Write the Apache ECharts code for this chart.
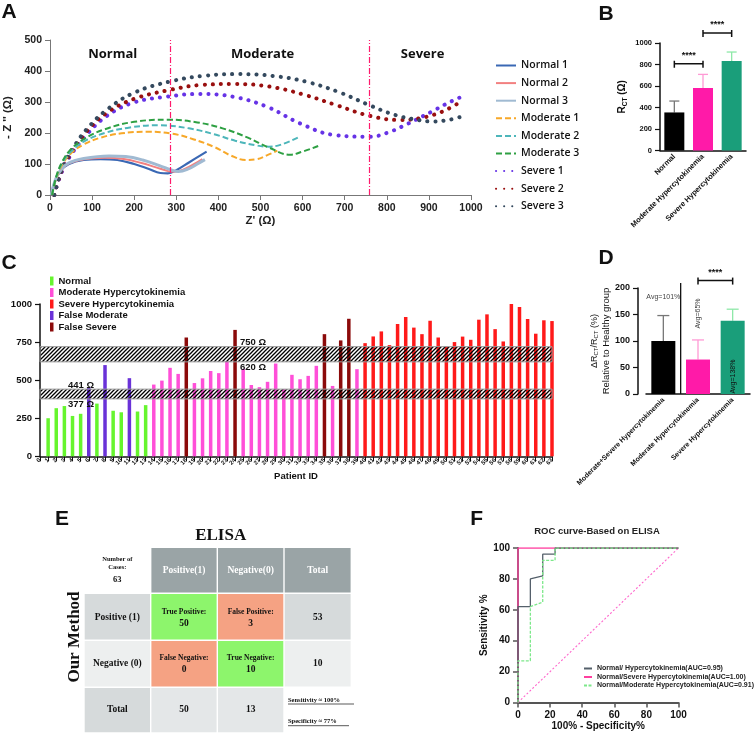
<!DOCTYPE html>
<html><head><meta charset="utf-8">
<script src="https://cdn.jsdelivr.net/npm/echarts@6/dist/echarts.min.js"></script>
<style>html,body{margin:0;padding:0;background:#fff}#c{width:756px;height:735px}</style>
</head><body><div id="c"></div>
<script>
// ---------- Panel A: Nyquist curves [Z', -Z''] ----------
const aNormal1 = [[3,0],[12,45],[25,78],[45,100],[80,113],[120,116],[160,113],[200,100],[235,84],[262,71],[280,70],[300,80],[330,105],[372,140]];
const aNormal2 = [[3,0],[12,45],[25,78],[45,102],[80,115],[130,120],[175,116],[215,104],[250,90],[280,77],[295,75],[320,84],[345,102],[362,116]];
const aNormal3 = [[3,0],[12,47],[25,80],[45,104],[80,118],[140,126],[180,124],[220,113],[260,95],[290,80],[305,76],[330,85],[350,100],[368,114]];
const aModerate1 = [[5,0],[15,55],[30,100],[50,135],[80,163],[120,185],[170,199],[230,204],[290,198],[340,180],[390,155],[430,127],[465,113],[490,115],[515,128],[540,143]];
const aModerate2 = [[5,0],[15,58],[30,105],[50,140],[80,172],[130,200],[190,218],[260,225],[330,215],[390,196],[440,175],[490,160],[520,156],[550,163],[590,186]];
const aModerate3 = [[5,0],[15,60],[30,110],[50,148],[80,180],[130,212],[200,236],[280,243],[350,234],[410,215],[470,185],[520,153],[570,130],[600,140],[637,158]];
const aSevere1 = [[10,0],[20,45],[35,95],[55,140],[87,195],[135,255],[198,298],[277,317],[356,326],[435,317],[515,285],[594,231],[673,194],[760,188],[800,200],[850,230],[911,272],[950,300],[988,323]];
const aSevere2 = [[10,0],[20,48],[35,100],[55,145],[87,205],[135,265],[200,310],[285,339],[360,355],[440,358],[520,350],[600,325],[680,290],[760,255],[831,242],[880,248],[930,268],[975,300]];
const aSevere3 = [[10,0],[20,50],[35,105],[55,152],[87,212],[135,275],[200,330],[285,366],[370,385],[450,390],[530,384],[610,365],[690,330],[758,290],[820,258],[870,243],[911,237],[950,243],[978,253]];
const aNames = ['Normal 1','Normal 2','Normal 3','Moderate 1','Moderate 2','Moderate 3','Severe 1','Severe 2','Severe 3'];
const aSeriesData = [aNormal1,aNormal2,aNormal3,aModerate1,aModerate2,aModerate3,aSevere1,aSevere2,aSevere3];
const aThresholds = [285, 758];
const aRegions = ['Normal','Moderate','Severe'];

// ---------- Panel B ----------
const bCats = ['Normal','Moderate Hypercytokinemia','Severe Hypercytokinemia'];
const bMeans = [354, 581, 832];
const bUpper = [460, 708, 916];

// ---------- Panel C ----------
const cIds = ['0','1','2','3','4','5','6','7','8','9','10','11','12','13','14','15','16','17','18','19','20','21','22','23','24','25','26','27','28','29','30','31','32','33','34','35','36','37','38','39','40','41','42','43','44','45','46','47','48','49','50','51','52','53','54','55','56','57','58','59','60','61','62','63'];
const cValues = [null,250,316,330,265,279,455,346,599,299,289,513,294,336,
  471,497,581,541,780,481,512,560,546,624,830,574,468,454,489,609,441,535,506,528,594,802,462,761,903,572,
  743,787,820,730,869,914,845,802,890,780,720,750,786,765,897,932,835,754,1001,980,902,805,893,888];
const cGroup = ['-','N','N','N','N','N','FM','N','FM','N','N','FM','N','N',
  'M','M','M','M','FS','M','M','M','M','M','FS','M','M','M','M','M','M','M','M','M','M','FS','M','FS','FS','M',
  'S','S','S','S','S','S','S','S','S','S','S','S','S','S','S','S','S','S','S','S','S','S','S','S'];
const cGroupKeys = ['N','M','S','FM','FS'];
const cGroupNames = ['Normal','Moderate Hypercytokinemia','Severe Hypercytokinemia','False Moderate','False Severe'];
const cBands = [[620,720],[377,441]];
const cBandLabels = ['750 Ω','620 Ω','441 Ω','377 Ω'];

// ---------- Panel D ----------
const dCats = ['Moderate+Severe Hypercytokinemia','Moderate Hypercytokinemia','Severe Hypercytokinemia'];
const dMeans = [100, 65, 138];
const dUpper = [148, 102, 160];
const dAvg = ['Avg=101%','Avg=65%','Avg=138%'];

// ---------- Panel E ----------
const eHeader = ['Positive(1)','Negative(0)','Total'];
const eRowLabels = ['Positive (1)','Negative (0)','Total'];
const eCellTitles = [['True Positive:','False Positive:',''],['False Negative:','True Negative:',''],['','','']];
const eCellValues = [['50','3','53'],['0','10','10'],['50','13','']];
const eCases = '63';
const eSens = 'Sensitivity ≈ 100%';
const eSpec = 'Specificity ≈ 77%';

// ---------- Panel F ----------
const fNames = ['Normal/ Hypercytokinemia(AUC=0.95)','Normal/Severe Hypercytokinemia(AUC=1.00)','Normal/Moderate Hypercytokinemia(AUC=0.91)'];
const fRocAll = [[0,0],[0,62],[7.7,62],[7.7,80],[15.4,82],[15.4,96],[23.1,96],[23.1,100],[100,100]];
const fRocSevere = [[0,0],[0,100],[100,100]];
const fRocModerate = [[0,0],[0,27],[7.7,27],[7.7,62],[15.4,65],[15.4,92],[23.1,92],[23.1,100],[100,100]];
const fDiag = [[0,0],[100,100]];

// ================= styles =================
const SANS = 'Liberation Sans';
const SERIF = 'Liberation Serif';
const aStyles = [
  {color:'#3A68B4', width:2.2, type:'solid'},
  {color:'#F28080', width:2, type:'solid'},
  {color:'#A0BAD2', width:3, type:'solid'},
  {color:'#F7A829', width:2, type:[6,3]},
  {color:'#4DB6BA', width:2, type:[6,3]},
  {color:'#2EA043', width:2, type:[6,3]},
  {color:'#6633E6', width:4, type:[0.1,8], cap:'round'},
  {color:'#990F0F', width:4, type:[0.1,8], cap:'round'},
  {color:'#34495E', width:4, type:[0.1,8], cap:'round'}
];
const bColors = ['#000000','#FF1AA8','#1A9E7A'];
const bErrColors = ['#777777','#FF9AD5','#8EE8A8'];
const cColors = {N:'#66F52E', M:'#FF4FD8', S:'#FF1A1A', FM:'#6A32D8', FS:'#8B0A0A'};

// hatch pattern
const pc = document.createElement('canvas'); pc.width = 4; pc.height = 4;
const pg = pc.getContext('2d'); pg.strokeStyle = '#000'; pg.lineWidth = 1.3;
pg.beginPath(); pg.moveTo(0,4); pg.lineTo(4,0); pg.moveTo(-1,1); pg.lineTo(1,-1); pg.moveTo(3,5); pg.lineTo(5,3); pg.stroke();
const hatch = {image: pc, repeat: 'repeat'};

function errRender(colors, capW) {
  return function(params, api) {
    const x = api.value(0), m = api.value(1), u = api.value(2);
    const p0 = api.coord([x, m]), p1 = api.coord([x, u]);
    const c = colors[params.dataIndex];
    return {type:'group', children:[
      {type:'line', shape:{x1:p0[0],y1:p0[1],x2:p1[0],y2:p1[1]}, style:{stroke:c, lineWidth:1.3}},
      {type:'line', shape:{x1:p1[0]-capW,y1:p1[1],x2:p1[0]+capW,y2:p1[1]}, style:{stroke:c, lineWidth:1.3}}
    ]};
  };
}

const blackAxis = {lineStyle:{color:'#111', width:1.5}};
const plain = v => String(v);
const lbl = (s, extra) => Object.assign({fontFamily:SANS, fontWeight:'bold', fontSize:s, color:'#111'}, extra||{});

const series = [];
// A
aSeriesData.forEach((d, i) => {
  const s = {name:aNames[i], type:'line', xAxisIndex:0, yAxisIndex:0, data:d, smooth:0.4,
    symbol:'none', showSymbol:false, lineStyle:aStyles[i], itemStyle:{color:aStyles[i].color}, z: i<6 ? 4 : 3};
  if (i === 0) {
    s.markLine = {silent:true, symbol:'none', label:{show:false},
      lineStyle:{color:'#FF1A6C', type:[6,2,1,2], width:1.2},
      data: aThresholds.map(v => ({xAxis:v}))};
  }
  series.push(s);
});
// B
series.push({name:'B', type:'bar', xAxisIndex:1, yAxisIndex:1, barWidth:20,
  data: bMeans.map((v,i) => ({value:v, itemStyle:{color:bColors[i]}}))});
series.push({name:'Berr', type:'custom', xAxisIndex:1, yAxisIndex:1, renderItem: errRender(bErrColors, 5),
  data: bMeans.map((v,i) => [i, v, bUpper[i]]), z:1});
// C
cGroupKeys.forEach((g, gi) => {
  const s = {name:cGroupNames[gi], type:'bar', stack:'c', xAxisIndex:2, yAxisIndex:2, barWidth:3.5,
    itemStyle:{color:cColors[g]},
    data: cValues.map((v,i) => cGroup[i] === g ? v : '-')};
  if (gi === cGroupKeys.length - 1) {
    s.markArea = {silent:true, z:5,
      itemStyle:{color:hatch, borderColor:'#9a9a9a', borderWidth:1},
      data: cBands.map(b => [{yAxis:b[0]},{yAxis:b[1]}])};
  }
  series.push(s);
});
// D
series.push({name:'D', type:'bar', xAxisIndex:3, yAxisIndex:3, barWidth:24,
  data: dMeans.map((v,i) => ({value:v, itemStyle:{color:bColors[i]}}))});
series.push({name:'Derr', type:'custom', xAxisIndex:3, yAxisIndex:3, renderItem: errRender(bErrColors, 6),
  data: dMeans.map((v,i) => [i, v, dUpper[i]]), z:1});
// F
const fColors = ['#55606B','#FF3F9F','#7DE88A'];
[fRocAll, fRocSevere, fRocModerate].forEach((d,i) => {
  series.push({name:fNames[i], type:'line', xAxisIndex:4, yAxisIndex:4, data:d, symbol:'none',
    lineStyle:{color:fColors[i], width:1.3, type: i===2 ? [3,1.5] : 'solid'}, itemStyle:{color:fColors[i]}, z: i===1?3:4});
});
series.push({name:'diag', type:'line', xAxisIndex:4, yAxisIndex:4, data:fDiag, symbol:'none',
  lineStyle:{color:'#FF66CC', width:1.1, type:[2,2]}, z:2});

const gridBase = {containLabel:false, outerBoundsMode:'none'};
const option = {
  animation:false,
  backgroundColor:'#fff',
  grid:[
    Object.assign({left:50, top:40, width:421, height:155}, gridBase),
    Object.assign({left:660, top:43, width:86, height:107.5}, gridBase),
    Object.assign({left:40, top:304, width:512, height:152.3}, gridBase),
    Object.assign({left:646, top:288, width:104, height:106}, gridBase),
    Object.assign({left:518, top:548, width:160.5, height:154.5}, gridBase)
  ],
  xAxis:[
    {gridIndex:0, type:'value', min:0, max:1000, interval:100, splitLine:{show:false},
      axisLine:{lineStyle:{color:'#777'}}, axisTick:{show:true, lineStyle:{color:'#777'}},
      axisLabel:lbl(10.5,{color:'#222', formatter:plain}), name:"Z' (Ω)", nameLocation:'middle', nameGap:17,
      nameTextStyle:lbl(11.5,{color:'#222'})},
    {gridIndex:1, type:'category', data:bCats, axisLine:blackAxis, axisTick:{alignWithLabel:true, lineStyle:{color:'#111',width:1.2}},
      axisLabel:lbl(7.5,{rotate:45, interval:0, margin:5})},
    {gridIndex:2, type:'category', data:cIds, boundaryGap:false, axisLine:blackAxis,
      axisTick:{interval:0, lineStyle:{color:'#111'}},
      axisLabel:lbl(6,{rotate:45, interval:0, margin:3}), name:'Patient ID', nameLocation:'middle', nameGap:15,
      nameTextStyle:lbl(9.5)},
    {gridIndex:3, type:'category', data:dCats, axisLine:blackAxis, axisTick:{alignWithLabel:true, lineStyle:{color:'#111',width:1.2}},
      axisLabel:lbl(7,{rotate:45, interval:0, margin:5})},
    {gridIndex:4, type:'value', min:0, max:100, interval:20, splitLine:{show:false},
      axisLine:{lineStyle:{color:'#555', width:1.8}}, axisTick:{lineStyle:{color:'#555', width:1.5}},
      axisLabel:lbl(10), name:'100% - Specificity%', nameLocation:'middle', nameGap:15, nameTextStyle:lbl(10)}
  ],
  yAxis:[
    {gridIndex:0, type:'value', min:0, max:500, interval:100, splitLine:{show:false},
      axisLine:{show:true, lineStyle:{color:'#777'}}, axisTick:{show:true, lineStyle:{color:'#777'}},
      axisLabel:lbl(10.5,{color:'#222'}), name:"- Z '' (Ω)", nameLocation:'middle', nameGap:32,
      nameTextStyle:lbl(11.5,{color:'#222'})},
    {gridIndex:1, type:'value', min:0, max:1000, interval:200, splitLine:{show:false},
      axisLine:Object.assign({show:true}, blackAxis), axisTick:{show:true, lineStyle:{color:'#111',width:1.2}},
      axisLabel:lbl(7.5,{formatter:plain}), name:'{a|R}{b|CT} (Ω)', nameLocation:'middle', nameGap:31,
      nameTextStyle:Object.assign(lbl(10), {rich:{a:lbl(10), b:lbl(6.5,{padding:[6,0,0,0]})}})},
    {gridIndex:2, type:'value', min:0, max:1000, interval:250, splitLine:{show:false},
      axisLine:Object.assign({show:true}, blackAxis), axisTick:{show:true, lineStyle:{color:'#111',width:1.2}},
      axisLabel:lbl(9.5,{formatter:plain}), name:'{a|R}{b|CT} (Ω)', nameLocation:'middle', nameGap:24,
      nameTextStyle:Object.assign(lbl(11), {rich:{a:lbl(11), b:lbl(7,{padding:[7,0,0,0]})}})},
    {gridIndex:3, type:'value', min:0, max:200, interval:50, splitLine:{show:false}, offset:8,
      axisLine:Object.assign({show:true}, blackAxis), axisTick:{show:true, lineStyle:{color:'#111',width:1.2}},
      axisLabel:lbl(9), name:'{a|ΔR}{b|CT}{a|/R}{b|CT}{a| (%)}\n{c|Relative to Healthy group}', nameLocation:'middle', nameGap:13,
      nameTextStyle:Object.assign(lbl(9), {rich:{a:lbl(9,{fontWeight:'normal'}), b:lbl(6,{fontWeight:'normal', padding:[5,0,0,0]}), c:lbl(9.5,{fontWeight:'normal', lineHeight:13})}})},
    {gridIndex:4, type:'value', min:0, max:100, interval:20, splitLine:{show:false},
      axisLine:{show:true, lineStyle:{color:'#555', width:1.8}}, axisTick:{show:true, lineStyle:{color:'#555', width:1.5}},
      axisLabel:lbl(10), name:'Sensitivity %', nameLocation:'middle', nameGap:28, nameTextStyle:lbl(10)}
  ],
  legend:[
    {data:aNames, orient:'vertical', left:490, top:55, itemWidth:20, itemHeight:12, itemGap:6.6,
      itemStyle:{opacity:0},
      textStyle:{fontFamily:'Open Sans', fontWeight:600, fontSize:10.5, color:'#111'}},
    {data:cGroupNames, orient:'vertical', left:45, top:271, icon:'rect', itemWidth:3.5, itemHeight:9, itemGap:1.5,
      textStyle:lbl(9.5)},
    {data:fNames, orient:'vertical', left:578, top:660, itemWidth:8, itemHeight:4, itemGap:1.5,
      itemStyle:{opacity:0},
      textStyle:lbl(7,{color:'#222'})}
  ],
  series: series
};

const chart = echarts.init(document.getElementById('c'), null, {renderer:'canvas', width:756, height:735});
chart.setOption(option);

// ========== annotations ==========
const P = (g, v) => chart.convertToPixel({gridIndex:g}, v);
function txt(x, y, text, font, o) {
  o = o || {};
  return {type:'text', x:x, y:y, rotation:o.rot||0, silent:true, z:100,
    style:{text:text, font:font, fill:o.fill||'#111', textAlign:o.align||'center', textVerticalAlign:o.va||'middle',
      align:o.align||'center', verticalAlign:o.va||'middle'}};
}
function ln(x1, y1, x2, y2, stroke, w) {
  return {type:'line', silent:true, z:100, shape:{x1:x1,y1:y1,x2:x2,y2:y2}, style:{stroke:stroke, lineWidth:w}};
}
function rc(x, y, w, h, fill) {
  return {type:'rect', silent:true, z:90, shape:{x:x,y:y,width:w,height:h}, style:{fill:fill}};
}
const G = [];
// panel letters
const LF = 'bold 21px "' + SANS + '"';
G.push(txt(9,12.5,'A',LF), txt(606,14,'B',LF), txt(9,263.5,'C',LF), txt(606,258.5,'D',LF), txt(62,519.5,'E',LF), txt(476.7,519.5,'F',LF));
// A region labels
const aRegPos = [[149,455],[505,455],[885,455]];
aRegions.forEach((t,i) => { const p = P(0, aRegPos[i]); G.push(txt(p[0], p[1], t, 'bold 13px "Open Sans"', {fill:'#111'})); });
// brackets
function bracket(g, i0, i1, yv, stars, font) {
  const a = P(g, [i0, yv]), b = P(g, [i1, yv]);
  G.push(ln(a[0], a[1], b[0], b[1], '#111', 1.5), ln(a[0], a[1]-3, a[0], a[1]+4, '#111', 1.5), ln(b[0], b[1]-3, b[0], b[1]+4, '#111', 1.5));
  G.push(txt((a[0]+b[0])/2, a[1]-8, stars, font));
}
bracket(1, 0, 1, 807, '****', 'bold 9px "' + SANS + '"');
bracket(1, 1, 2, 1093, '****', 'bold 9px "' + SANS + '"');
// C band labels
const band1Top = P(2, [0, cBands[0][1]])[1], band1Bot = P(2, [0, cBands[0][0]])[1];
const band2Top = P(2, [0, cBands[1][1]])[1], band2Bot = P(2, [0, cBands[1][0]])[1];
const CF = 'bold 9.5px "' + SANS + '"';
G.push(txt(240, band1Top - 4, cBandLabels[0], CF, {align:'left'}));
G.push(txt(240, band1Bot + 6, cBandLabels[1], CF, {align:'left'}));
G.push(txt(68, band2Top - 4, cBandLabels[2], CF, {align:'left'}));
G.push(txt(68, band2Bot + 5, cBandLabels[3], CF, {align:'left'}));
// D annotations
const d0 = P(3, [0, 0]), d1 = P(3, [1, 0]), d2 = P(3, [2, 0]);
const dTop = P(3, [0, 200])[1];
G.push(ln((d0[0]+d1[0])/2, dTop - 5, (d0[0]+d1[0])/2, d0[1], '#111', 1.3));
bracket(3, 1, 2, 214, '****', 'bold 9px "' + SANS + '"');
G.push(txt(d0[0], P(3,[0,182])[1], dAvg[0], '7px "' + SANS + '"', {fill:'#444'}));
G.push(txt(d1[0], P(3,[1,152])[1], dAvg[1], '7px "' + SANS + '"', {fill:'#444', rot:Math.PI/2}));
G.push(txt(d2[0], P(3,[2,33])[1], dAvg[2], '7px "' + SANS + '"', {fill:'#111', rot:Math.PI/2}));
// F title
G.push(txt(597, 531.7, 'ROC curve-Based on ELISA', 'bold 9.5px "' + SANS + '"', {fill:'#222'}));
// E table
const colX = [84, 150.7, 217.3, 284, 351.3];
const rowY = [547.3, 593.3, 640.3, 687.3, 733];
const fills = [
  ['#ffffff','#9AA4A6','#9AA4A6','#9AA4A6'],
  ['#D6DADB','#8DF56C','#F5A283','#D6DADB'],
  ['#EDEFEF','#F5A283','#8DF56C','#EDEFEF'],
  ['#D6DADB','#E4E7E8','#E4E7E8','#ffffff']
];
for (let r = 0; r < 4; r++) for (let c = 0; c < 4; c++) {
  G.push(rc(colX[c]+0.7, rowY[r]+0.7, colX[c+1]-colX[c]-1.4, rowY[r+1]-rowY[r]-1.4, fills[r][c]));
}
const TB = (s) => 'bold ' + s + 'px "' + SERIF + '"';
G.push(txt(220.7, 536, 'ELISA', TB(17), {fill:'#111'}));
G.push(txt(75, 637, 'Our Method', TB(17), {fill:'#111', rot:Math.PI/2}));
G.push(txt(117.3, 559.3, 'Number of', TB(6.5)), txt(117.3, 567.3, 'Cases:', TB(6.5)), txt(117.3, 580, eCases, TB(8.5)));
eHeader.forEach((t,i) => G.push(txt((colX[i+1]+colX[i+2])/2, 570.5, t, TB(9.5), {fill:'#ffffff'})));
const rowLabelY = [617.3, 664, 710];
eRowLabels.forEach((t,i) => G.push(txt((colX[0]+colX[1])/2, rowLabelY[i], t, TB(9.5))));
for (let r = 0; r < 3; r++) for (let c = 0; c < 3; c++) {
  const cx = (colX[c+1]+colX[c+2])/2;
  if (eCellTitles[r][c]) {
    G.push(txt(cx, rowLabelY[r]-5.6, eCellTitles[r][c], TB(7.5)));
    if (eCellValues[r][c]) G.push(txt(cx, rowLabelY[r]+6, eCellValues[r][c], TB(9.5)));
  } else if (eCellValues[r][c]) {
    G.push(txt(cx, rowLabelY[r], eCellValues[r][c], TB(9.5)));
  }
}
G.push(txt(288, 700, eSens, TB(6.5), {align:'left'}), txt(288, 721.7, eSpec, TB(6.5), {align:'left'}));
G.push(ln(288, 704, 354, 704, '#111', 0.7), ln(288, 725.7, 349, 725.7, '#111', 0.7));

chart.setOption({graphic:{elements:G}});
</script>
</body></html>
